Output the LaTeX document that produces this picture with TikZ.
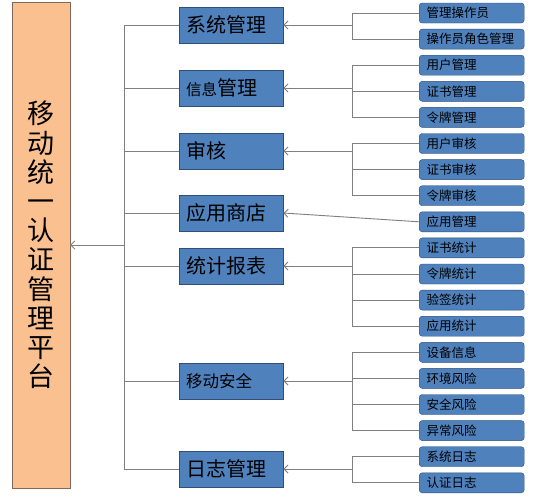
\documentclass[tikz,border=0pt]{standalone}
\usepackage{fontspec}
\setmainfont{Noto Sans CJK SC}
\usetikzlibrary{arrows.meta, positioning}

\definecolor{platformfill}{HTML}{FAC090}
\definecolor{platformdraw}{HTML}{7F6A5A}
\definecolor{modulefill}{HTML}{4F81BD}
\definecolor{moduledraw}{HTML}{2F4F78}
\definecolor{linegray}{HTML}{7F7F7F}

\begin{document}
\begin{tikzpicture}[
        x=1pt, y=-1pt,
        platform/.style = {rectangle, draw=platformdraw, fill=platformfill,
                           minimum width=58pt, minimum height=486pt, align=center,
                           font=\fontsize{27}{29.2}\selectfont},
        module/.style   = {rectangle, draw=moduledraw, fill=modulefill, anchor=west,
                           minimum height=36pt, text width=90pt, inner xsep=7pt,
                           inner ysep=1pt, align=left, font=\fontsize{20}{22}\selectfont},
        func/.style     = {rectangle, rounded corners=3pt, draw=moduledraw, fill=modulefill,
                           anchor=west, minimum height=20pt, text width=90pt, inner xsep=7.5pt,
                           inner ysep=1pt, align=left, font=\fontsize{12.5}{14}\selectfont},
        line/.style     = {draw=linegray, line width=0.9pt},
        arrowline/.style = {line, -{Straight Barb[length=4pt, width=8pt]}}
    ]
        \path[use as bounding box, fill=white] (0,0) rectangle (554,498);

        % 节点
        \node [platform] (platform) at (41,245) {移\\动\\统\\一\\认\\证\\管\\理\\平\\台};

        \node [module] (sys)    at (179,25)  {系统管理};
        \node [module] (info)   at (179,88)  {{\fontsize{15.5}{18}\selectfont 信息}管理};
        \node [module] (audit)  at (179,151) {审核};
        \node [module] (store)  at (179,213) {应用商店};
        \node [module] (report) at (179,266) {统计报表};
        \node [module] (secure) at (179,381) {\fontsize{16.5}{18}\selectfont 移动安全};
        \node [module] (log)    at (179,469) {日志管理};

        \node [func] (f1)  at (419,13)    {管理操作员};
        \node [func] (f2)  at (419,39.1)  {操作员角色管理};
        \node [func] (f3)  at (419,65.2)  {用户管理};
        \node [func] (f4)  at (419,91.3)  {证书管理};
        \node [func] (f5)  at (419,117.4) {令牌管理};
        \node [func] (f6)  at (419,143.5) {用户审核};
        \node [func] (f7)  at (419,169.6) {证书审核};
        \node [func] (f8)  at (419,195.7) {令牌审核};
        \node [func] (f9)  at (419,221.8) {应用管理};
        \node [func] (f10) at (419,247.9) {证书统计};
        \node [func] (f11) at (419,274)   {令牌统计};
        \node [func] (f12) at (419,300.1) {验签统计};
        \node [func] (f13) at (419,326.2) {应用统计};
        \node [func] (f14) at (419,352.3) {设备信息};
        \node [func] (f15) at (419,378.4) {环境风险};
        \node [func] (f16) at (419,404.5) {安全风险};
        \node [func] (f17) at (419,430.6) {异常风险};
        \node [func] (f18) at (419,456.7) {系统日志};
        \node [func] (f19) at (419,482.8) {认证日志};

        \coordinate (bus)    at (124,245);
        \coordinate (subbus) at (352,0);

        % 主干连线
        \path [line] (sys.west) -- (sys.west -| bus) -- (log.west -| bus) -- (log.west);
        \path [line] (info.west)   -- (info.west -| bus);
        \path [line] (audit.west)  -- (audit.west -| bus);
        \path [line] (store.west)  -- (store.west -| bus);
        \path [line] (report.west) -- (report.west -| bus);
        \path [line] (secure.west) -- (secure.west -| bus);
        \path [arrowline] (bus) -- (platform.east);

        % 系统管理
        \path [line] (f1.west) -- (f1.west -| subbus) -- (f2.west -| subbus) -- (f2.west);
        \path [arrowline] (sys.east -| subbus) -- (sys.east);
        % 信息管理
        \path [line] (f3.west) -- (f3.west -| subbus) -- (f5.west -| subbus) -- (f5.west);
        \path [line] (f4.west) -- (f4.west -| subbus);
        \path [arrowline] (info.east -| subbus) -- (info.east);
        % 审核
        \path [line] (f6.west) -- (f6.west -| subbus) -- (f8.west -| subbus) -- (f8.west);
        \path [line] (f7.west) -- (f7.west -| subbus);
        \path [arrowline] (audit.east -| subbus) -- (audit.east);
        % 应用商店
        \path [arrowline] (f9.west) -- (store.east);
        % 统计报表
        \path [line] (f10.west) -- (f10.west -| subbus) -- (f13.west -| subbus) -- (f13.west);
        \path [line] (f11.west) -- (f11.west -| subbus);
        \path [line] (f12.west) -- (f12.west -| subbus);
        \path [arrowline] (report.east -| subbus) -- (report.east);
        % 移动安全
        \path [line] (f14.west) -- (f14.west -| subbus) -- (f17.west -| subbus) -- (f17.west);
        \path [line] (f15.west) -- (f15.west -| subbus);
        \path [line] (f16.west) -- (f16.west -| subbus);
        \path [arrowline] (secure.east -| subbus) -- (secure.east);
        % 日志管理
        \path [line] (f18.west) -- (f18.west -| subbus) -- (f19.west -| subbus) -- (f19.west);
        \path [arrowline] (log.east -| subbus) -- (log.east);
    \end{tikzpicture}
\end{document}
